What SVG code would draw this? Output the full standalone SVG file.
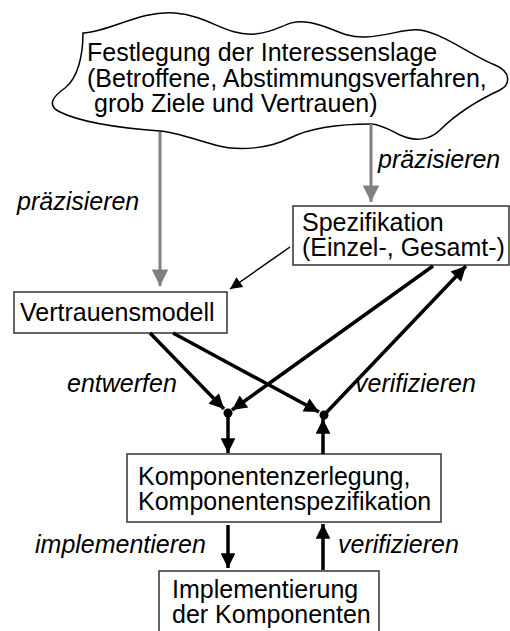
<svg xmlns="http://www.w3.org/2000/svg" width="510" height="631" viewBox="0 0 510 631">
<style>
text{font-family:"Liberation Sans",Arial,sans-serif;font-size:25px;fill:#000}
.lbl{font-style:italic}
.box{fill:#fff;stroke:#333;stroke-width:1.5}
.gray{stroke:#808080;stroke-width:3;fill:none}
.thick{stroke:#000;stroke-width:3.5;fill:none}
.thin{stroke:#000;stroke-width:1.5;fill:none}
</style>
<defs>
<marker id="hg" viewBox="0 0 10 10" refX="10" refY="5" markerWidth="6" markerHeight="5.5" markerUnits="strokeWidth" orient="auto"><path d="M0,0 L10,5 L0,10 Z" fill="#808080"/></marker>
<marker id="hb" viewBox="0 0 10 10" refX="10" refY="5" markerWidth="5" markerHeight="4.2" markerUnits="strokeWidth" orient="auto"><path d="M0,0 L10,5 L0,10 Z" fill="#000"/></marker>
<marker id="ht" viewBox="0 0 10 10" refX="10" refY="5" markerWidth="10" markerHeight="8" markerUnits="strokeWidth" orient="auto"><path d="M0,0 L10,5 L0,10 Z" fill="#000"/></marker>
</defs>
<g id="cloud">
<path d="M83 33 C110 32 140 10 175 13 C210 16 225 36 255 34 C280 32 285 20 305 22 C330 24 340 38 365 37 C390 36 405 28 420 30 C445 34 470 55 495 65 C512 72 510 85 500 90 C485 97 460 110 440 130 C430 140 415 142 400 135 C390 130 380 124 371 124 C340 124 310 128 290 138 C270 148 240 152 215 145 C190 138 175 132 160 131 C120 128 80 122 60 112 C45 105 55 95 65 88 C78 78 83 55 83 33 Z" fill="#fff" stroke="#000" stroke-width="1.5"/>
<text x="87" y="61">Festlegung der Interessenslage</text>
<text x="87" y="87">(Betroffene, Abstimmungsverfahren,</text>
<text x="94" y="112">grob Ziele und Vertrauen)</text>
</g>
<g id="spezifikation">
<rect class="box" x="293" y="206" width="216" height="59"/>
<text x="302" y="231">Spezifikation</text>
<text x="302" y="256">(Einzel-, Gesamt-)</text>
</g>
<g id="vertrauensmodell">
<rect class="box" x="14" y="292" width="213" height="41"/>
<text x="20" y="321">Vertrauensmodell</text>
</g>
<g id="komponenten">
<rect class="box" x="127" y="454" width="314" height="68"/>
<text x="138" y="485">Komponentenzerlegung,</text>
<text x="138" y="510">Komponentenspezifikation</text>
</g>
<g id="implementierung">
<rect class="box" x="159" y="571" width="220" height="70"/>
<text x="172" y="598">Implementierung</text>
<text x="172" y="623">der Komponenten</text>
</g>
<g id="junction1"><circle cx="228" cy="413" r="4.5" fill="#000"/></g>
<g id="junction2"><circle cx="324" cy="415" r="4.5" fill="#000"/></g>
<g id="connectors">
<line class="gray" x1="160" y1="132" x2="160" y2="286" marker-end="url(#hg)"/>
<line class="gray" x1="371" y1="124" x2="371" y2="202" marker-end="url(#hg)"/>
<line class="thin" x1="290" y1="247" x2="230" y2="289" marker-end="url(#ht)"/>
<line class="thick" x1="150" y1="333" x2="224" y2="409" marker-end="url(#hb)"/>
<line class="thick" x1="173" y1="333" x2="319" y2="412" marker-end="url(#hb)"/>
<line class="thick" x1="433" y1="266" x2="232" y2="410" marker-end="url(#hb)"/>
<line class="thick" x1="324" y1="415" x2="466" y2="266" marker-end="url(#hb)"/>
<line class="thick" x1="228" y1="413" x2="228" y2="453" marker-end="url(#hb)"/>
<line class="thick" x1="323" y1="454" x2="323" y2="419" marker-end="url(#hb)"/>
<line class="thick" x1="228" y1="525" x2="228" y2="568" marker-end="url(#hb)"/>
<line class="thick" x1="323" y1="570" x2="323" y2="524" marker-end="url(#hb)"/>
</g>
<g id="labels">
<text class="lbl" x="17" y="210">präzisieren</text>
<text class="lbl" x="378" y="168">präzisieren</text>
<text class="lbl" x="67" y="392">entwerfen</text>
<text class="lbl" x="355" y="392">verifizieren</text>
<text class="lbl" x="35" y="553">implementieren</text>
<text class="lbl" x="338" y="553">verifizieren</text>
</g>
</svg>
